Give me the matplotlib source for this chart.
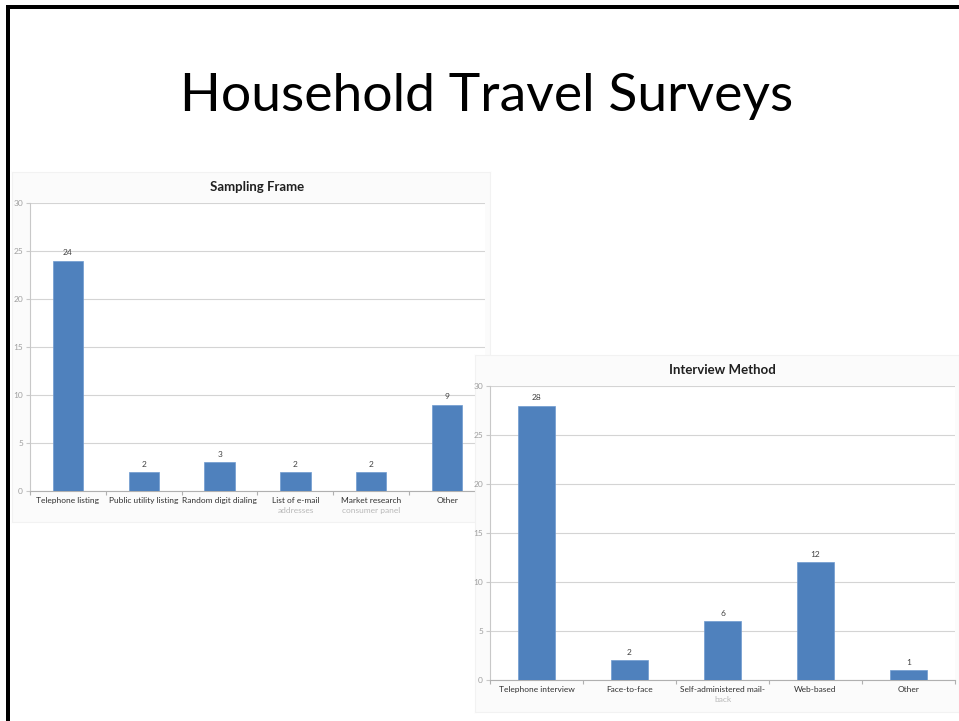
import matplotlib
matplotlib.use("Agg")
import matplotlib.pyplot as plt
from matplotlib.patches import Rectangle

plt.rcParams['font.family'] = ['Lato', 'DejaVu Sans']

# Sampling frame chart
frame_labels = ['Telephone listing', 'Public utility listing', 'Random digit dialing',
                'List of e-mail\naddresses', 'Market research\nconsumer panel', 'Other']
frame_counts = [24, 2, 3, 2, 2, 9]

# Interview method chart
method_labels = ['Telephone interview', 'Face-to-face', 'Self-administered mail-\nback',
                 'Web-based', 'Other']
method_counts = [28, 2, 6, 12, 1]

y_ticks = [0, 5, 10, 15, 20, 25, 30]

BAR = '#4f81bd'
W, H = 959, 721


def fx(x):
    return x / W


def fy(y):
    return 1 - y / H


def panel(fig, x0, y0, x1, y1, z):
    # light chart-area backdrop, drawn as an empty axes so it can sit between charts
    pa = fig.add_axes([fx(x0), fy(y1), fx(x1 - x0), (y1 - y0) / H])
    pa.set_zorder(z)
    pa.set_facecolor('#fbfbfb')
    pa.set_xticks([])
    pa.set_yticks([])
    for s in pa.spines.values():
        s.set_color('#f2f2f2')
        s.set_linewidth(0.8)
    return pa


def bar_chart(ax, labels, counts, title):
    ax.set_facecolor('white')
    xs = range(len(counts))
    ax.bar(xs, counts, width=0.4, color=BAR, edgecolor='#6f9ad0', lw=0.5, zorder=3)
    for x, c in zip(xs, counts):
        ax.annotate(str(c), (x, c), xytext=(0, 3), textcoords='offset points',
                    ha='center', va='bottom', fontsize=6, color='#404040')
    ax.set_ylim(0, 30)
    ax.set_xlim(-0.5, len(counts) - 0.5)
    ax.set_yticks(y_ticks)
    ax.tick_params(axis='y', labelsize=6, labelcolor='#a0a0a0', length=3, color='#c8c8c8', pad=2)
    ax.yaxis.grid(True, color='#d4d4d4', lw=0.8, zorder=0)
    ax.set_xticks([i - 0.5 for i in range(len(counts) + 1)])
    ax.set_xticklabels([])
    ax.tick_params(axis='x', length=3, color='#b0b0b0')
    for i, lab in enumerate(labels):
        parts = lab.split('\n')
        ax.annotate(parts[0], (i, 0), xytext=(0, -4.5), textcoords='offset points',
                    ha='center', va='top', fontsize=6, color='#303030')
        if len(parts) > 1:
            ax.annotate(parts[1], (i, 0), xytext=(0, -11.3), textcoords='offset points',
                        ha='center', va='top', fontsize=6, color='#b8b8b8')
    for s in ['top', 'right']:
        ax.spines[s].set_visible(False)
    ax.spines['left'].set_color('#c8c8c8')
    ax.spines['bottom'].set_color('#b0b0b0')
    ax.set_title(title, fontsize=9.5, fontweight='bold', color='#202020', pad=9)


fig = plt.figure(figsize=(W / 100, H / 100), dpi=100)

# slide border
fig.patches.append(Rectangle((fx(6), fy(9)), fx(W - 6), 4 / H, transform=fig.transFigure,
                             facecolor='black', edgecolor='none', zorder=10))
fig.patches.append(Rectangle((fx(6), 0), fx(4), fy(5), transform=fig.transFigure,
                             facecolor='black', edgecolor='none', zorder=10))

fig.text(fx(487), fy(97), 'Household Travel Surveys', ha='center', va='center',
         fontsize=38.5, color='black')

panel(fig, 12, 172, 490, 522, 1)
ax1 = fig.add_axes([fx(30), fy(491), fx(455), 288 / H])
ax1.set_zorder(2)
bar_chart(ax1, frame_labels, frame_counts, 'Sampling Frame')

panel(fig, 475, 355, 959, 712, 3)
ax2 = fig.add_axes([fx(490), fy(680), fx(465), 294 / H])
ax2.set_zorder(4)
bar_chart(ax2, method_labels, method_counts, 'Interview Method')

fig.savefig('out.png', dpi=100)
